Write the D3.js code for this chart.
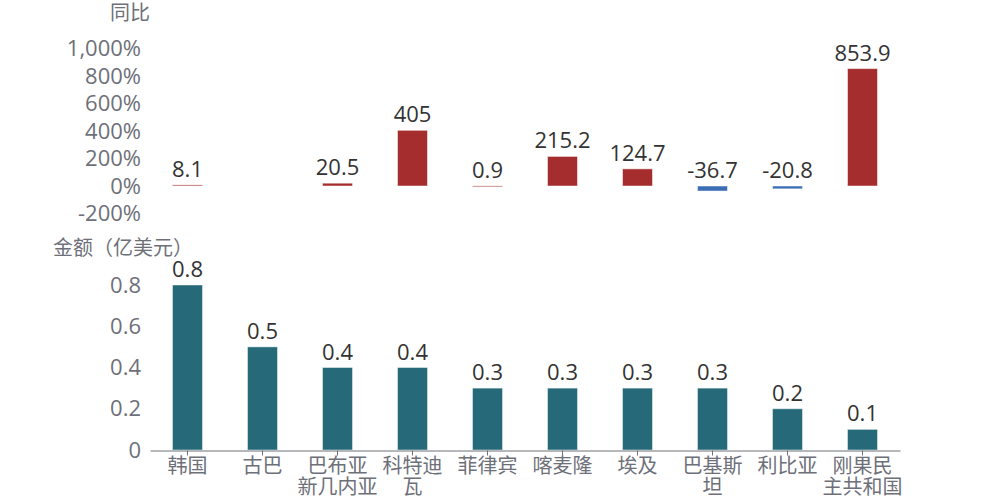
<!DOCTYPE html>
<html><head><meta charset="utf-8">
<script src="https://cdn.jsdelivr.net/npm/d3@7/dist/d3.min.js"></script>
<style>body{margin:0;background:#fff}svg{display:block}text{font-family:"Open Sans","Noto Sans CJK SC",sans-serif}</style>
</head><body>
<svg id="c" width="1000" height="500"></svg>
<script>
const categories = ["韩国","古巴","巴布亚\n新几内亚","科特迪\n瓦","菲律宾","喀麦隆","埃及","巴基斯\n坦","利比亚","刚果民\n主共和国"];
const yoyValues = [8.1, null, 20.5, 405, 0.9, 215.2, 124.7, -36.7, -20.8, 853.9];
const amountValues = [0.8, 0.5, 0.4, 0.4, 0.3, 0.3, 0.3, 0.3, 0.2, 0.1];
const yoyTicks = [-200, 0, 200, 400, 600, 800, 1000];
const amountTicks = [0, 0.2, 0.4, 0.6, 0.8];

const svg = d3.select("#c");
const xc = d3.scaleBand().domain(d3.range(categories.length)).range([150, 900]);
const bw = 30;
const cx = i => xc(i) + xc.bandwidth() / 2;

const yTop = d3.scaleLinear().domain([-200, 1000]).range([213.5, 48.5]);
const yBot = d3.scaleLinear().domain([0, 0.8]).range([450, 285]);

const tickColor = "#6e7079";
const fmtPct = d => (d < 0 ? "-" : "") + d3.format(",")(Math.abs(d)) + "%";

// top axis labels
svg.append("g").selectAll("text").data(yoyTicks).join("text")
  .attr("x", 141).attr("y", d => yTop(d)).attr("dy", "0.35em")
  .attr("text-anchor", "end").attr("fill", tickColor).attr("font-size", 22)
  .text(fmtPct);
svg.append("text").attr("x", 130).attr("y", 13).attr("dy", "0.35em").attr("text-anchor", "middle")
  .attr("fill", tickColor).attr("font-size", 20).text("同比");

const topData = yoyValues.map((v, i) => ({v, i})).filter(d => d.v !== null);
svg.append("g").selectAll("rect").data(topData).join("rect")
  .attr("x", d => cx(d.i) - bw / 2).attr("width", bw)
  .attr("y", d => Math.min(yTop(d.v), yTop(0)))
  .attr("height", d => Math.max(1, Math.abs(yTop(d.v) - yTop(0))))
  .attr("fill", d => d.v >= 0 ? "#a52d2e" : "#3a6db4")
  .attr("stroke", "rgba(255,255,255,0.5)").attr("stroke-width", 1);
svg.append("g").selectAll("text").data(topData).join("text")
  .attr("x", d => cx(d.i)).attr("y", d => Math.min(yTop(d.v), yTop(0)) - 8)
  .attr("text-anchor", "middle").attr("fill", "#333").attr("font-size", 22)
  .text(d => String(d.v));

// bottom axis
svg.append("g").selectAll("text").data(amountTicks).join("text")
  .attr("x", 141).attr("y", d => yBot(d)).attr("dy", "0.35em")
  .attr("text-anchor", "end").attr("fill", tickColor).attr("font-size", 22)
  .text(d => d);
svg.append("text").attr("x", 53).attr("y", 248).attr("dy", "0.35em").attr("text-anchor", "start")
  .attr("fill", tickColor).attr("font-size", 20).text("金额（亿美元）");

svg.append("g").selectAll("rect").data(amountValues).join("rect")
  .attr("x", (d, i) => cx(i) - bw / 2).attr("width", bw)
  .attr("y", d => yBot(d)).attr("height", d => yBot(0) - yBot(d))
  .attr("fill", "#266a7a").attr("stroke", "rgba(255,255,255,0.45)").attr("stroke-width", 1);
svg.append("g").selectAll("text").data(amountValues).join("text")
  .attr("x", (d, i) => cx(i)).attr("y", d => yBot(d) - 8)
  .attr("text-anchor", "middle").attr("fill", "#333").attr("font-size", 22)
  .text(d => d);

const ax = svg.append("g").attr("transform", "translate(0,450.5)")
  .call(d3.axisBottom(xc).tickSize(5).tickSizeOuter(0).tickFormat(""));
ax.select(".domain").attr("stroke", tickColor);
ax.selectAll(".tick line").attr("stroke", tickColor);

const lines = [];
categories.forEach((c, i) => c.split("\n").forEach((s, k) => lines.push({s, i, k})));
svg.append("g").selectAll("text").data(lines).join("text")
  .attr("x", d => cx(d.i)).attr("y", d => 473 + d.k * 21)
  .attr("text-anchor", "middle").attr("fill", tickColor).attr("font-size", 20)
  .text(d => d.s);
</script>
</body></html>
